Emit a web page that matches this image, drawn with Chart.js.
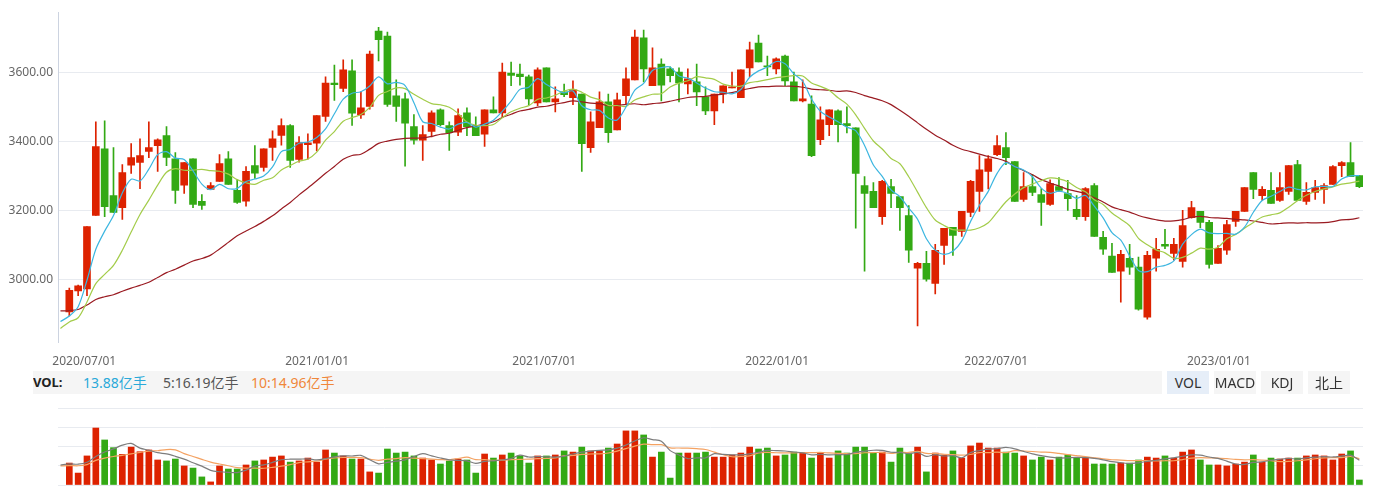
<!DOCTYPE html>
<html>
<head>
<meta charset="utf-8">
<script src="https://cdn.jsdelivr.net/npm/chart.js@4.4.1/dist/chart.umd.min.js"></script>
<style>
  body { margin: 0; width: 1380px; height: 486px; overflow: hidden; background: #fff; position: relative;
         font-family: "Noto Sans", "Noto Sans CJK SC", sans-serif; }
  #kline { position: absolute; left: 0; top: 0; }
  #vol { position: absolute; left: 0; top: 400px; }
  .volbar { position: absolute; left: 33px; top: 371px; width: 1129px; height: 23px; background: #f5f5f5; }
  .volbar span { position: absolute; top: 0; line-height: 23px; font-size: 14px; white-space: nowrap; }
  .btn { position: absolute; top: 371px; width: 42px; height: 23px; line-height: 23px; text-align: center;
         font-size: 14px; color: #333; background: #f5f5f5; }
</style>
</head>
<body>
<canvas id="kline" width="1380" height="372"></canvas>
<div class="volbar">
  <span style="left:0;font-weight:bold;font-size:13px;color:#222">VOL:</span>
  <span style="left:50px;color:#2aa9d9">13.88亿手</span>
  <span style="left:130px;color:#555">5:16.19亿手</span>
  <span style="left:218px;color:#f0873a">10:14.96亿手</span>
</div>
<div class="btn" style="left:1167px;background:#e6eef8">VOL</div>
<div class="btn" style="left:1214px">MACD</div>
<div class="btn" style="left:1261px">KDJ</div>
<div class="btn" style="left:1308px">北上</div>
<canvas id="vol" width="1380" height="86"></canvas>
<script>
// weekly candles, index 0 = first visible week
const opens = [2906,2967,2973,3186,3380,3244,3209,3332,3340,3372,
  3389,3418,3351,3274,3351,3227,3262,3285,3351,3259,
  3228,3331,3326,3384,3419,3447,3349,3392,3396,3474,
  3571,3555,3606,3478,3503,3722,3707,3534,3525,3444,
  3405,3430,3493,3447,3428,3484,3447,3422,3493,3484,
  3600,3597,3589,3513,3615,3516,3545,3528,3539,3383,
  3441,3516,3435,3534,3580,3702,3563,3626,3612,3603,
  3568,3574,3531,3490,3539,3557,3528,3615,3687,3620,
  3612,3649,3574,3519,3510,3406,3450,3490,3453,3441,
  3273,3256,3183,3270,3241,3186,3033,3047,2989,3099,
  3152,3140,3195,3256,3314,3363,3383,3343,3233,3270,
  3247,3218,3270,3250,3204,3183,3273,3123,3068,3024,
  3062,3036,2891,3062,3102,3076,3053,3180,3198,3166,
  3047,3085,3169,3198,3311,3244,3259,3230,3256,3334,
  3227,3253,3262,3276,3331,3340,3302];
const highs = [2975,2984,3154,3458,3461,3383,3334,3395,3409,3458,
  3409,3444,3369,3340,3351,3247,3282,3363,3372,3291,
  3328,3389,3380,3432,3467,3450,3415,3423,3476,3589,
  3623,3638,3638,3545,3664,3733,3719,3580,3542,3479,
  3447,3490,3496,3458,3496,3499,3473,3493,3531,3629,
  3632,3626,3594,3615,3615,3560,3568,3577,3539,3487,
  3545,3539,3542,3615,3725,3725,3673,3641,3618,3615,
  3612,3626,3560,3539,3563,3603,3609,3690,3710,3649,
  3644,3652,3603,3580,3534,3502,3493,3493,3502,3441,
  3299,3282,3288,3291,3241,3215,3050,3082,3102,3149,
  3152,3198,3288,3360,3360,3418,3427,3343,3311,3305,
  3264,3290,3296,3288,3244,3267,3279,3140,3105,3085,
  3102,3065,3082,3120,3146,3120,3201,3227,3198,3172,
  3099,3172,3198,3267,3311,3270,3311,3311,3331,3346,
  3282,3288,3279,3331,3343,3398,3302];
const lows = [2894,2953,2953,3186,3183,3195,3175,3308,3264,3354,
  3314,3331,3221,3250,3209,3204,3262,3285,3276,3221,
  3213,3294,3315,3346,3390,3326,3341,3350,3374,3459,
  3520,3546,3448,3468,3495,3635,3503,3459,3329,3393,
  3346,3414,3446,3375,3418,3418,3418,3387,3484,3471,
  3563,3565,3508,3505,3516,3487,3531,3508,3314,3369,
  3441,3398,3435,3508,3580,3574,3563,3519,3574,3516,
  3539,3505,3479,3450,3513,3557,3528,3589,3632,3592,
  3597,3563,3519,3516,3357,3392,3418,3400,3426,3149,
  3024,3209,3160,3209,3143,3050,2865,2995,2958,3044,
  3070,3125,3183,3198,3263,3360,3334,3227,3227,3244,
  3157,3215,3256,3201,3175,3172,3125,3073,3021,2934,
  3015,2911,2885,3024,3090,3056,3036,3178,3151,3033,
  3047,3073,3154,3198,3235,3230,3221,3227,3247,3230,
  3218,3233,3221,3276,3299,3299,3267];
const closes = [2969,2982,3154,3386,3212,3195,3311,3354,3360,3383,
  3406,3355,3259,3340,3218,3215,3273,3337,3276,3224,
  3314,3309,3380,3409,3447,3346,3398,3397,3476,3571,
  3566,3609,3483,3499,3655,3697,3509,3503,3454,3405,
  3421,3484,3450,3427,3476,3444,3418,3493,3484,3603,
  3593,3589,3525,3609,3516,3525,3537,3551,3395,3458,
  3516,3427,3522,3583,3704,3612,3615,3565,3592,3571,
  3583,3545,3490,3539,3563,3560,3609,3667,3632,3618,
  3641,3577,3519,3525,3360,3464,3493,3450,3447,3308,
  3250,3209,3285,3250,3209,3085,3047,3001,3085,3149,
  3128,3198,3285,3319,3351,3389,3354,3227,3270,3253,
  3224,3279,3259,3235,3183,3264,3125,3088,3021,3073,
  3036,2914,3070,3088,3097,3102,3157,3209,3166,3044,
  3091,3160,3198,3267,3262,3262,3221,3267,3331,3230,
  3253,3267,3273,3328,3340,3299,3270];
// weekly volume, 亿手
const volumes = [11.4,6.2,15.1,29.6,23.4,19.4,15.9,19.7,17.3,18.2,
  13.0,12.5,13.5,9.9,8.8,4.2,1.6,9.9,8.3,8.3,
  10.4,12.5,13.0,14.5,15.1,11.9,12.5,14.0,11.9,18.2,
  16.6,15.1,13.5,13.5,6.8,6.2,18.7,16.6,17.1,15.1,
  14.0,13.0,10.9,12.5,13.5,13.0,6.2,16.1,14.0,15.6,
  16.6,15.1,11.4,15.1,15.1,15.6,17.7,17.1,19.7,17.7,
  17.7,19.2,21.3,28.1,28.1,26.0,14.5,17.1,3.6,16.6,
  16.6,16.6,17.1,14.5,14.5,15.6,16.6,19.7,18.7,19.2,
  15.1,15.6,17.1,16.6,14.0,16.6,14.0,17.7,16.6,19.7,
  19.7,16.6,17.1,11.9,19.2,16.6,19.7,6.8,16.6,15.6,
  17.7,14.0,20.3,21.8,19.2,19.2,17.1,16.6,15.1,13.0,
  14.5,13.0,14.5,15.6,14.0,14.0,10.9,10.9,10.9,11.4,
  11.4,13.0,14.5,14.0,15.1,14.0,17.1,18.2,13.0,10.4,
  10.4,9.9,10.9,11.9,15.6,11.9,14.0,13.5,14.0,14.0,
  15.1,15.6,15.1,13.0,16.1,17.7,2.6];

// moving-average values for the weeks before a full window (week -1 onward)
const ma5Head = [2878,2894,2921,2998,3088];
const ma10Head = [2858,2877,2889,2935,2988,3015,3041,3085,3138,3189];
const ma30Head = [2909,2910,2913,2926,2942,2950,2956,2966,2975,2983,
  2992,3006,3020,3030,3042,3054,3061,3071,3089,3108,
  3127,3141,3154,3169,3185,3205,3224,3246,3266,3287];
const volMa5Head = [10.4,11.0,10.8,11.8,14.8];
const volMa10Head = [9.9,10.1,10.0,10.6,12.8,14.0,14.8,15.4,16.2,16.9];

const xTickPos = [1.69, 28.05, 53.75, 80.1, 104.9, 130.1];
const xTickLabels = ['2020/07/01','2021/01/01','2021/07/01','2022/01/01','2022/07/01','2023/01/01'];
const priceTicks = [3000, 3200, 3400, 3600];
const volTicks = [0, 10, 20, 30, 40];

const UP = '#dd2200', DOWN = '#33a914';
const GRID = '#e8ebf0';
Chart.defaults.font.family = '"Noto Sans", sans-serif';
Chart.defaults.animation = false;

function movingAvg(src, n, head) {
  const pts = [{ x: -1, y: head[0] }];
  for (let i = 0; i < src.length; i++) {
    if (i + 1 < head.length) {
      pts.push({ x: i, y: head[i + 1] });
    } else {
      let s = 0;
      for (let j = i - n + 1; j <= i; j++) s += src[j];
      pts.push({ x: i, y: s / n });
    }
  }
  return pts;
}

const colors = closes.map((c, i) => c >= opens[i] ? UP : DOWN);
const xRange = { min: -1.28, max: 146.41 };

function lineSet(data, color) {
  return { type: 'line', data: data, borderColor: color, borderWidth: 1.2, pointRadius: 0,
           tension: 0.3, order: 0 };
}

new Chart(document.getElementById('kline'), {
  type: 'bar',
  data: {
    datasets: [
      { data: lows.map((l, i) => ({ x: i, y: [l, highs[i]] })), backgroundColor: colors,
        barThickness: 1, grouped: false, order: 2 },
      { data: opens.map((o, i) => ({ x: i, y: [Math.min(o, closes[i]), Math.max(o, closes[i])] })),
        backgroundColor: colors, barThickness: 7, minBarLength: 1, grouped: false, order: 1 },
      lineSet(movingAvg(closes, 5, ma5Head), '#3cb6e0'),
      lineSet(movingAvg(closes, 10, ma10Head), '#a3cc4a'),
      lineSet(movingAvg(closes, 30, ma30Head), '#9a1b22')
    ]
  },
  options: {
    responsive: false,
    layout: { padding: { left: 0, right: 17, top: 11, bottom: 0 } },
    plugins: { legend: { display: false }, tooltip: { enabled: false } },
    scales: {
      x: {
        type: 'linear', min: xRange.min, max: xRange.max, offset: false,
        grid: { display: false, offset: false },
        border: { display: false },
        afterBuildTicks: (s) => { s.ticks = xTickPos.map(v => ({ value: v })); },
        afterFit: (s) => { s.height = 30; },
        ticks: { autoSkip: false, maxRotation: 0, padding: 4, color: '#666', font: { size: 12 },
                 callback: (v, i) => xTickLabels[i] }
      },
      y: {
        min: 2818.6, max: 3776.6,
        grid: { color: GRID, drawTicks: false },
        border: { display: true, color: '#ccd3e0' },
        afterBuildTicks: (s) => { s.ticks = priceTicks.map(v => ({ value: v })); },
        afterFit: (s) => { s.width = 58; },
        ticks: { padding: 5, color: '#666', font: { size: 12 }, callback: (v) => v.toFixed(2) }
      }
    }
  }
});

new Chart(document.getElementById('vol'), {
  type: 'bar',
  data: {
    datasets: [
      { data: volumes.map((v, i) => ({ x: i, y: v })), backgroundColor: colors,
        barThickness: 6, grouped: false, order: 1 },
      lineSet(movingAvg(volumes, 5, volMa5Head), '#7d7d7d'),
      lineSet(movingAvg(volumes, 10, volMa10Head), '#f4a262')
    ]
  },
  options: {
    responsive: false,
    layout: { padding: { left: 0, right: 17, top: 8, bottom: 1 } },
    plugins: { legend: { display: false }, tooltip: { enabled: false } },
    scales: {
      x: { type: 'linear', min: xRange.min, max: xRange.max, offset: false, display: false },
      y: {
        min: 0, max: 40,
        grid: { color: GRID, drawTicks: false },
        border: { display: false },
        afterBuildTicks: (s) => { s.ticks = volTicks.map(v => ({ value: v })); },
        afterFit: (s) => { s.width = 58; },
        ticks: { display: false }
      }
    }
  }
});
</script>
</body>
</html>
